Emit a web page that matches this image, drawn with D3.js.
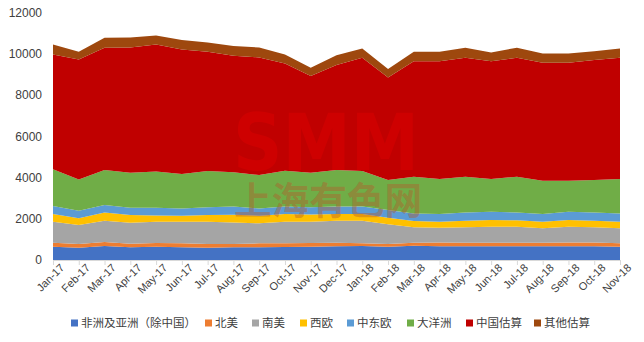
<!DOCTYPE html>
<html>
<head>
<meta charset="utf-8">
<script src="https://cdn.jsdelivr.net/npm/d3@7"></script>
<style>
  html, body { margin: 0; padding: 0; background: #fff; }
  svg { display: block; }
</style>
</head>
<body>
<svg id="chart" width="644" height="342"></svg>
<script>
// Monthly categories
const months = ["Jan-17","Feb-17","Mar-17","Apr-17","May-17","Jun-17","Jul-17","Aug-17","Sep-17","Oct-17","Nov-17","Dec-17",
                "Jan-18","Feb-18","Mar-18","Apr-18","May-18","Jun-18","Jul-18","Aug-18","Sep-18","Oct-18","Nov-18"];

// Series values (stacked bottom to top)
const africaAsia   = [645,600,680,615,645,615,600,615,615,630,645,665,680,645,695,665,665,665,665,665,665,665,645];
const northAmerica = [195,175,195,175,180,195,175,160,195,180,180,175,130,130,145,190,175,175,175,175,190,190,165];
const southAmerica = [1020,925,1035,1020,1035,1050,1085,1050,970,1050,1035,1070,1100,955,745,715,745,775,775,695,760,730,725];
const westEurope   = [370,320,400,370,305,290,320,375,370,370,350,320,320,320,305,290,325,325,310,325,325,325,325];
const centralEastEurope = [390,375,360,360,375,355,380,390,355,360,350,360,360,375,370,370,400,405,385,370,405,400,400];
const oceania      = [1780,1515,1695,1695,1760,1665,1755,1665,1615,1740,1675,1775,1725,1455,1780,1700,1730,1585,1730,1620,1505,1570,1670];
const chinaEst     = [5575,5820,5935,6080,6160,6045,5790,5655,5710,5210,4690,5095,5500,4980,5610,5720,5775,5720,5775,5720,5720,5820,5885];
const otherEst     = [485,375,485,485,435,455,455,470,485,435,400,480,450,405,455,455,485,420,485,450,450,435,450];

const yTicks = [0,2000,4000,6000,8000,10000,12000];

const seriesNames = ["非洲及亚洲（除中国）","北美","南美","西欧","中东欧","大洋洲","中国估算","其他估算"];
const seriesValues = [africaAsia, northAmerica, southAmerica, westEurope, centralEastEurope, oceania, chinaEst, otherEst];
const colors = ["#4472C4","#ED7D31","#A5A5A5","#FFC000","#5B9BD5","#70AD47","#C00000","#9E480E"];

const table = months.map((m, i) => {
  const row = { month: m };
  seriesNames.forEach((n, k) => { row[n] = seriesValues[k][i]; });
  return row;
});

const svg = d3.select("#chart");
const plotLeft = 53, plotRight = 620, plotTop = 12.7, plotBottom = 260;

const x = d3.scalePoint().domain(months).range([plotLeft, plotRight]);
const y = d3.scaleLinear().domain([0, 12000]).range([plotBottom, plotTop]);

const stacked = d3.stack().keys(seriesNames)(table);

const area = d3.area()
  .x(d => x(d.data.month))
  .y0(d => y(d[0]))
  .y1(d => y(d[1]));

svg.append("g").selectAll("path")
  .data(stacked)
  .join("path")
  .attr("d", area)
  .attr("fill", (d, i) => colors[i]);

// Watermark
const wm = svg.append("g").attr("pointer-events", "none");
wm.append("text")
  .attr("x", 326).attr("y", 170)
  .attr("text-anchor", "middle")
  .attr("font-family", "DejaVu Sans, sans-serif")
  .attr("font-weight", 900)
  .attr("font-size", 78)
  .attr("textLength", 186)
  .attr("lengthAdjust", "spacingAndGlyphs")
  .attr("fill", "rgba(255,0,0,0.22)")
  .text("SMM");
wm.append("text")
  .attr("x", 328).attr("y", 214)
  .attr("text-anchor", "middle")
  .attr("font-family", "Noto Sans CJK SC, sans-serif")
  .attr("font-weight", 700)
  .attr("font-size", 38)
  .attr("textLength", 188)
  .attr("lengthAdjust", "spacingAndGlyphs")
  .attr("fill", "rgba(182,90,43,0.42)")
  .text("上海有色网");

// X axis
const xAxis = svg.append("g")
  .attr("transform", `translate(0,${plotBottom})`)
  .call(d3.axisBottom(x).tickSize(5).tickSizeOuter(0));
xAxis.select(".domain").attr("stroke", "#D9D9D9");
xAxis.selectAll(".tick line").attr("stroke", "#D9D9D9");
xAxis.selectAll(".tick text")
  .attr("font-family", "Liberation Sans, Arial, sans-serif")
  .attr("font-size", 11)
  .attr("fill", "#404040")
  .attr("text-anchor", "end")
  .attr("dx", "0.2em")
  .attr("dy", "0.55em")
  .attr("transform", "rotate(-45)");

// Y axis
const yAxis = svg.append("g")
  .attr("transform", `translate(${plotLeft},0)`)
  .call(d3.axisLeft(y).tickValues(yTicks).tickFormat(d3.format("d")).tickSize(0).tickPadding(11));
yAxis.select(".domain").remove();
yAxis.selectAll(".tick text")
  .attr("font-family", "Liberation Sans, Arial, sans-serif")
  .attr("font-size", 12)
  .attr("fill", "#404040");

// Legend
const legendX = [71, 205, 252, 300, 347, 407, 466, 534];
const legend = svg.append("g").attr("transform", "translate(0,323)");
seriesNames.forEach((n, i) => {
  const g = legend.append("g").attr("transform", `translate(${legendX[i]},0)`);
  g.append("rect").attr("x", 0).attr("y", -3.5).attr("width", 7).attr("height", 7).attr("fill", colors[i]);
  g.append("text")
    .attr("x", 10).attr("y", 0).attr("dy", "0.36em")
    .attr("font-family", "Noto Sans CJK SC, sans-serif")
    .attr("font-size", 11.5)
    .attr("fill", "#404040")
    .text(n);
});
</script>
</body>
</html>
